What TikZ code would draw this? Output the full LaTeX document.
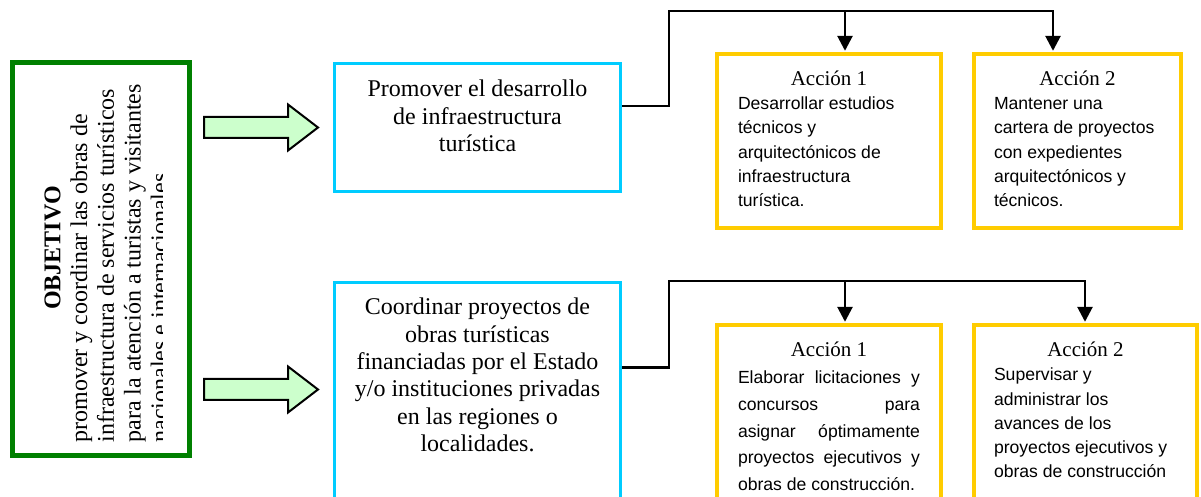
\documentclass[tikz,border=0pt]{standalone}
\usepackage{fontspec}
\setmainfont{Liberation Serif}
\setsansfont{Liberation Sans}
\usepackage{tikz}
\usetikzlibrary{arrows.meta}
\definecolor{objverde}{RGB}{0,128,0}
\definecolor{estcian}{RGB}{0,204,255}
\definecolor{accoro}{RGB}{255,204,0}
\definecolor{flechaverde}{RGB}{204,255,204}
\newcommand{\acctitulo}[1]{{\centering\fontsize{10.5}{12.5}\selectfont #1\par}}
\tikzset{
  objbox/.style={draw=objverde,line width=2.5pt,inner sep=0pt},
  estbox/.style={draw=estcian,line width=1.6pt,inner sep=0pt,minimum width=143pt},
  accbox/.style={draw=accoro,line width=1.6pt,inner sep=0pt},
  liga/.style={line width=1.35pt},
  gflecha/.style={draw,line width=1pt,fill=flechaverde}
}

\begin{document}
\begin{tikzpicture}[x=0.5pt,y=-0.5pt,>={Triangle[width=7.5pt,length=7.5pt]}]
            \path[use as bounding box,clip] (0,0) rectangle (1201,497);
            % objetivo
            \node[objbox,minimum width=88.5pt,minimum height=196.5pt] (obj) at (101,259) {};
            \begin{scope}
            \clip (14,64) rectangle (162,454);
            \node[rotate=90,anchor=north west,inner sep=0pt,align=left,
                  font=\fontsize{12}{13.4}\selectfont] (objtxt) at (44,443)
                 {\makebox[194.5pt]{\textbf{OBJETIVO}}\\
                  promover y coordinar las obras de\\
                  infraestructura de servicios turísticos\\
                  para la atención a turistas y visitantes\\
                  nacionales e internacionales};
            \end{scope}
            \foreach \yy in {127.5,389.5}
                \draw[gflecha] (204,\yy-10.5)--(288,\yy-10.5)--(288,\yy-23)--(318,\yy)
                    --(288,\yy+23)--(288,\yy+10.5)--(204,\yy+10.5)--cycle;
            % estrategias
            \node[estbox,minimum height=64pt] (prom) at (477.5,127.5)
                 {\parbox[c][47.5pt][t]{140pt}{\centering\fontsize{12}{13.75}\selectfont
                  Promover el desarrollo\\ de infraestructura\\ turística}};
            \node[estbox,minimum height=125pt] (coord) at (477.5,407.5)
                 {\parbox[c][109.5pt][t]{140pt}{\centering\fontsize{12}{13.7}\selectfont
                  Coordinar proyectos de\\ obras turísticas\\ financiadas por el Estado\\
                  y/o instituciones privadas\\ en las regiones o\\ localidades.}};
            % acciones
            \node[accbox,minimum width=112pt,minimum height=87pt] (a1) at (829,141)
                 {\parbox[c][70pt][t]{91pt}{\acctitulo{Acción 1}\raggedright\sffamily
                  \fontsize{8.8}{12.1}\selectfont Desarrollar estudios\\ técnicos y\\
                  arquitectónicos de\\ infraestructura\\ turística.}};
            \node[accbox,minimum width=103.5pt,minimum height=87pt] (a2) at (1077.5,141)
                 {\parbox[c][70pt][t]{83.5pt}{\acctitulo{Acción 2}\raggedright\sffamily
                  \fontsize{8.8}{12.1}\selectfont Mantener una\\ cartera de proyectos\\
                  con expedientes\\ arquitectónicos y\\ técnicos.}};
            \node[accbox,minimum width=112pt,minimum height=110pt] (b1) at (829,435)
                 {\parbox[c][93pt][t]{91pt}{\acctitulo{Acción 1}\raggedright\sffamily
                  \fontsize{8.8}{13.4}\selectfont
                  \makebox[\linewidth][s]{Elaborar licitaciones y}\\
                  \makebox[\linewidth][s]{concursos para}\\
                  \makebox[\linewidth][s]{asignar óptimamente}\\
                  \makebox[\linewidth][s]{proyectos ejecutivos y}\\
                  obras de construcción.}};
            \node[accbox,minimum width=111.5pt,minimum height=110pt] (b2) at (1085.5,435)
                 {\parbox[c][93pt][t]{91.5pt}{\acctitulo{Acción 2}\raggedright\sffamily
                  \fontsize{8.8}{12.1}\selectfont Supervisar y\\ administrar los\\
                  avances de los\\ proyectos ejecutivos y\\ obras de construcción}};
            % conectores
            \coordinate (t1) at (669,11);
            \coordinate (d11) at (845,11);
            \coordinate (d12) at (1053,11);
            \coordinate (t2) at (669,281);
            \coordinate (d21) at (845,281);
            \coordinate (d22) at (1085,281);
            \draw[liga,->,shorten >=0.8pt] ([yshift=10.75pt]prom.east) -| (t1) -| (a2.north -| d12);
            \draw[liga,->,shorten >=0.8pt] (d11) -- (a1.north -| d11);
            \draw[liga,->,shorten >=0.8pt] ([yshift=20.1pt]coord.east) -| (t2) -| (b2.north -| d22);
            \draw[liga,->,shorten >=0.8pt] (d21) -- (b1.north -| d21);
        \end{tikzpicture}
\end{document}
